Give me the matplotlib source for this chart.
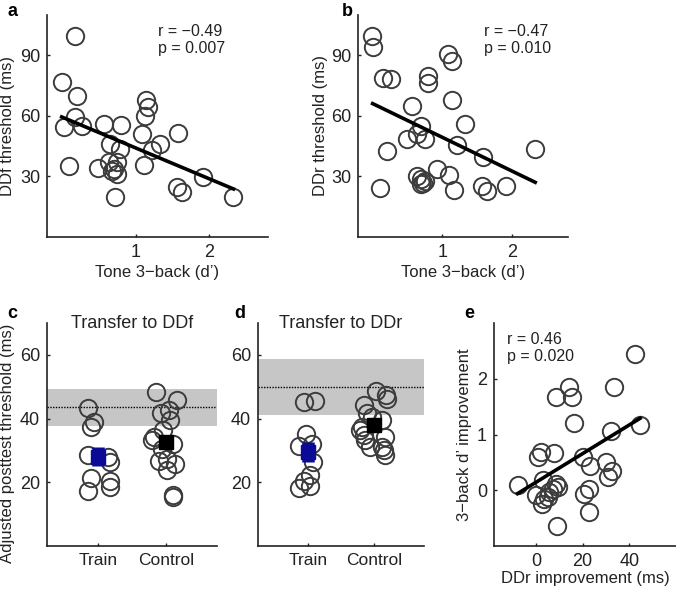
import numpy as np
import matplotlib
matplotlib.use("Agg")
import matplotlib.pyplot as plt

plt.rcParams["font.family"] = ["Liberation Sans", "DejaVu Sans"]
plt.rcParams["font.size"] = 12
plt.rcParams["axes.unicode_minus"] = True

# panel a: tone 3-back d' vs DDf threshold
a_x = [0.17, -0.01, 0.195, 0.17, 0.02, 0.26, 0.095, 0.56, 0.80, 0.65, 0.79, 0.49,
       0.63, 0.75, 0.70, 0.67, 0.75, 0.72, 1.135, 1.17, 1.13, 1.09, 1.33, 1.22,
       1.11, 1.58, 1.56, 1.63, 1.91, 2.33]
a_y = [99.6, 76.8, 69.9, 59.5, 54.3, 55.1, 35.0, 56.2, 55.5, 46.0, 43.5, 34.0,
       37.0, 37.0, 33.6, 32.8, 31.2, 20.0, 68.0, 64.5, 60.0, 51.0, 46.0, 43.2,
       35.8, 51.4, 24.6, 22.1, 29.5, 20.0]
a_fit_x = [-0.01, 2.33]
a_fit_y = [59.5, 23.8]

# panel b: tone 3-back d' vs DDr threshold
b_x = [-0.01, 0.01, 0.15, 0.27, 0.80, 0.80, 1.08, 1.14, 1.14, 0.56, 0.69, 0.64,
       0.49, 0.75, 1.33, 1.21, 1.58, 2.33, 0.20, 0.10, 0.63, 0.69, 0.72, 0.70,
       0.75, 0.92, 1.10, 1.17, 1.57, 1.64, 1.91]
b_y = [99.6, 94.1, 78.6, 78.5, 79.8, 76.5, 90.5, 87.2, 68.0, 64.7, 55.0, 51.0,
       48.5, 48.5, 56.2, 45.7, 39.7, 43.8, 42.4, 24.3, 30.4, 28.7, 27.0, 26.2,
       27.9, 33.6, 30.8, 23.3, 25.4, 22.6, 25.4]
b_fit_x = [0.0, 2.33]
b_fit_y = [66.1, 27.1]

groups = ["Train", "Control"]

# panel c: transfer to DDf
c_train_x = [0.85, 0.94, 0.90, 0.85, 1.15, 1.17, 0.89, 0.85, 1.17, 1.17]
c_train_y = [43.2, 38.9, 37.4, 28.6, 27.9, 26.3, 21.4, 17.4, 20.5, 18.4]
c_ctrl_x = [1.85, 2.16, 1.93, 2.04, 2.06, 1.96, 1.82, 1.80, 2.11, 1.94, 1.90,
            2.01, 2.13, 2.01, 2.10, 2.11]
c_ctrl_y = [48.4, 45.8, 41.8, 42.8, 39.5, 36.3, 34.2, 33.2, 32.1, 30.5, 26.8,
            27.4, 25.6, 23.7, 16.1, 15.5]
c_means = [28.0, 32.6]
c_sem = [3.0, 2.0]
c_band = [37.7, 49.2]
c_baseline = 43.5

# panel d: transfer to DDr
d_train_x = [0.95, 1.11, 0.98, 0.87, 1.06, 1.08, 1.04, 0.95, 1.04, 0.87]
d_train_y = [45.3, 45.6, 35.3, 31.4, 31.9, 26.5, 22.3, 20.3, 18.9, 18.2]
d_ctrl_x = [2.03, 2.18, 2.19, 1.84, 1.89, 2.11, 1.81, 1.79, 1.84, 1.86, 2.17,
            1.94, 2.11, 2.15, 2.16, 1.97]
d_ctrl_y = [48.7, 47.4, 46.3, 44.2, 41.6, 39.5, 37.4, 36.3, 34.7, 33.2, 34.2,
            31.1, 31.1, 30.0, 28.7, 40.5]
d_means = [29.5, 38.1]
d_sem = [3.0, 2.0]
d_band = [41.1, 58.7]
d_baseline = 50.0

# panel e: DDr improvement vs 3-back d' improvement
e_x = [42.6, 33.3, 14.0, 15.4, 8.6, 16.4, 32.1, 44.6, 2.1, 1.0, 7.9, 20.3, 23.3,
       30.0, 32.6, 31.0, -7.9, 2.9, 0.0, 3.6, 2.6, 5.7, 7.1, 8.6, 9.3, 5.0, 20.4,
       22.6, 22.9, 8.9]
e_y = [2.45, 1.85, 1.85, 1.67, 1.68, 1.21, 1.07, 1.17, 0.69, 0.60, 0.67, 0.60,
       0.43, 0.51, 0.35, 0.24, 0.09, 0.19, -0.09, -0.15, -0.25, -0.03, 0.03,
       0.12, 0.06, -0.12, -0.07, 0.03, -0.39, -0.65]
e_fit_x = [-7.9, 44.6]
e_fit_y = [-0.06, 1.29]

EDGE = "#3c3c3c"
TXT = "#222222"
BLUE = "#0a0a96"
W, H = 676, 589
LABEL_FS = 12
TICK_FS = 13


def px_axes(fig, left, top, right, bottom):
    return fig.add_axes([left / W, 1 - bottom / H, (right - left) / W, (bottom - top) / H])


def style(ax):
    for s in ("top", "right"):
        ax.spines[s].set_visible(False)
    for s in ("left", "bottom"):
        ax.spines[s].set_linewidth(1.2)
        ax.spines[s].set_color("#222222")
    ax.tick_params(direction="in", length=2, width=1, colors="#222222",
                   labelcolor=TXT, labelsize=TICK_FS, pad=5)


def labels(ax, xlabel, ylabel, ylab_px, xlab_px=35, ylab_shift=0):
    # label centres given in pixels from the spines
    bb = ax.get_position()
    w, h = bb.width * W, bb.height * H
    if xlabel:
        ax.set_xlabel(xlabel, fontsize=LABEL_FS, color=TXT, va="center")
        ax.xaxis.set_label_coords(0.5, -xlab_px / h)
    if ylabel:
        ax.set_ylabel(ylabel, fontsize=LABEL_FS, color=TXT, va="center")
        ax.yaxis.set_label_coords(-ylab_px / w, 0.5 - ylab_shift / h)


def circles(ax, x, y):
    ax.plot(x, y, "o", ms=12.5, mfc="none", mec=EDGE, mew=1.4, zorder=3)


fig = plt.figure(figsize=(W / 100, H / 100), dpi=100)

# a
ax = px_axes(fig, 47, 15, 268, 237)
style(ax)
circles(ax, a_x, a_y)
ax.plot(a_fit_x, a_fit_y, color="black", lw=2.6, zorder=4)
ax.set_xlim(-0.21, 2.8)
ax.set_ylim(0, 110)
ax.set_xticks([1, 2])
ax.set_yticks([30, 60, 90])
labels(ax, "Tone 3\u2212back (d\u2019)", "DDf threshold (ms)", 39)
ax.text(0.5, 0.96, "r = \u22120.49\np = 0.007", transform=ax.transAxes,
        fontsize=11.5, color=TXT, va="top", linespacing=1.15)
fig.text(8 / W, 1 - 12 / H, "a", fontsize=13, fontweight="bold", va="center")

# b
ax = px_axes(fig, 358, 15, 568, 237)
style(ax)
circles(ax, b_x, b_y)
ax.plot(b_fit_x, b_fit_y, color="black", lw=2.6, zorder=4)
ax.set_xlim(-0.21, 2.8)
ax.set_ylim(0, 110)
ax.set_xticks([1, 2])
ax.set_yticks([30, 60, 90])
labels(ax, "Tone 3\u2212back (d\u2019)", "DDr threshold (ms)", 38)
ax.text(0.6, 0.96, "r = \u22120.47\np = 0.010", transform=ax.transAxes,
        fontsize=11.5, color=TXT, va="top", linespacing=1.15)
fig.text(342 / W, 1 - 12 / H, "b", fontsize=13, fontweight="bold", va="center")


def transfer(ax, tx, ty, cx, cy, means, sem, band, base, title):
    style(ax)
    ax.axhspan(band[0], band[1], color="#c6c6c6", lw=0, zorder=1)
    ax.axhline(base, color="black", ls=(0, (1, 1)), lw=1.0, zorder=2)
    circles(ax, tx, ty)
    circles(ax, cx, cy)
    ax.errorbar([1], [means[0]], yerr=[sem[0]], fmt="s", ms=10.5, color=BLUE,
                elinewidth=9, capsize=0, zorder=5)
    ax.errorbar([2], [means[1]], yerr=[sem[1]], fmt="s", ms=10.5, color="black",
                elinewidth=9, capsize=0, zorder=5)
    ax.set_xlim(0.25, 2.75)
    ax.set_ylim(0, 70)
    ax.set_xticks([1, 2])
    ax.set_xticklabels(groups)
    ax.set_yticks([20, 40, 60])
    ax.tick_params(axis="x", labelsize=12.5)
    ax.text(0.5, 1.0, title, transform=ax.transAxes, ha="center", va="center",
            fontsize=13, color=TXT)


# c
ax = px_axes(fig, 47, 323, 217, 546)
transfer(ax, c_train_x, c_train_y, c_ctrl_x, c_ctrl_y, c_means, c_sem,
         c_band, c_baseline, "Transfer to DDf")
labels(ax, None, "Adjusted posttest threshold (ms)", 39, ylab_shift=9)
fig.text(7 / W, 1 - 313 / H, "c", fontsize=13, fontweight="bold", va="center")

# d
ax = px_axes(fig, 258, 323, 424, 546)
transfer(ax, d_train_x, d_train_y, d_ctrl_x, d_ctrl_y, d_means, d_sem,
         d_band, d_baseline, "Transfer to DDr")
fig.text(234 / W, 1 - 313 / H, "d", fontsize=13, fontweight="bold", va="center")

# e
ax = px_axes(fig, 494, 323, 676, 546)
style(ax)
circles(ax, e_x, e_y)
ax.plot(e_fit_x, e_fit_y, color="black", lw=2.6, zorder=4)
ax.set_xlim(-18, 60)
ax.set_ylim(-1, 3)
ax.set_xticks([0, 20, 40])
ax.set_yticks([0, 1, 2])
labels(ax, "DDr improvement (ms)", "3\u2212back d\u2019 improvement", 29, xlab_px=32)
ax.text(0.07, 0.96, "r = 0.46\np = 0.020", transform=ax.transAxes,
        fontsize=11.5, color=TXT, va="top", linespacing=1.15)
fig.text(464 / W, 1 - 313 / H, "e", fontsize=13, fontweight="bold", va="center")

fig.savefig("out.png", dpi=100)
